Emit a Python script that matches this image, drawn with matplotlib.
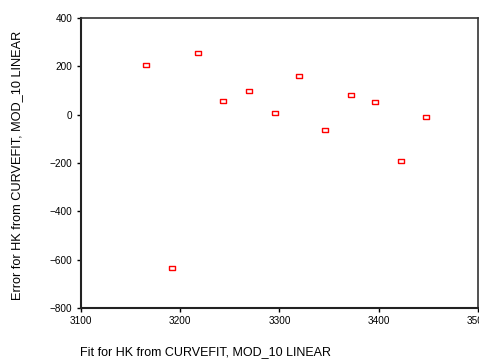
import matplotlib
matplotlib.use('Agg')
import matplotlib.pyplot as plt

plt.rcParams['font.family'] = ['Liberation Sans', 'DejaVu Sans']

# values
fit_hk = [3166, 3192, 3218, 3243, 3269, 3295, 3320, 3346, 3372, 3396, 3422, 3448]
error_hk = [206, -636, 254, 55, 99, 9, 160, -65, 80, 51, -190, -10]

x_ticks = [3100, 3200, 3300, 3400, 3500]
y_ticks = [-800, -600, -400, -200, 0, 200, 400]

fig = plt.figure(figsize=(4.79, 3.61), dpi=100)
ax = fig.add_axes([0.169, 0.147, 0.829, 0.803])

rect = [(-1.5, -1), (1.5, -1), (1.5, 1), (-1.5, 1), (-1.5, -1)]
ax.plot(fit_hk, error_hk, linestyle='none', marker=rect, markersize=4.5,
        markerfacecolor='white', markeredgecolor='red', markeredgewidth=1.0)

ax.set_xlim(3100, 3500)
ax.set_ylim(-800, 400)
ax.set_xticks(x_ticks)
ax.set_yticks(y_ticks)
ax.tick_params(axis='both', direction='out', length=3, width=1, labelsize=7.2, pad=3)
ax.tick_params(top=False, right=False)

for side in ['left', 'bottom']:
    ax.spines[side].set_linewidth(1.5)
    ax.spines[side].set_color('#222222')
for side in ['top', 'right']:
    ax.spines[side].set_linewidth(1.2)
    ax.spines[side].set_color('#333333')

fig.text(0.429, 0.025, 'Fit for HK from CURVEFIT, MOD_10 LINEAR', ha='center', va='center', fontsize=9)
fig.text(0.036, 0.543, 'Error for HK from CURVEFIT, MOD_10 LINEAR', ha='center', va='center',
         rotation=90, fontsize=9.2)

fig.savefig('out.png', dpi=100)
